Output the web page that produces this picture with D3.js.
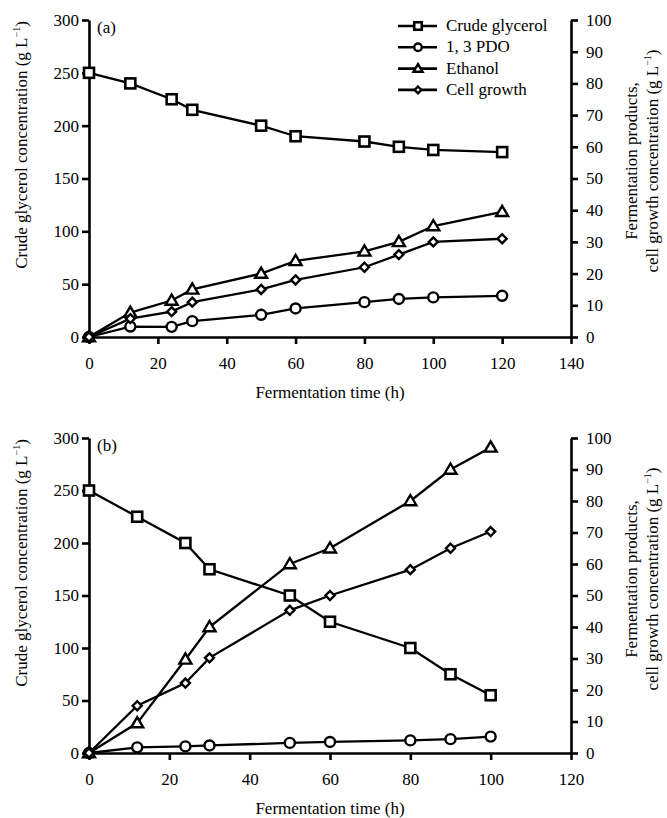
<!DOCTYPE html>
<html>
<head>
<meta charset="utf-8">
<script src="https://cdn.jsdelivr.net/npm/d3@7"></script>
<style>
  body { margin: 0; background: #fff; }
  .axis path, .axis line { stroke: #000; stroke-width: 2.6px; }
</style>
</head>
<body>
<div id="chart"></div>
<script>
// panel (a) data
var time_a = [0, 12, 24, 30, 50, 60, 80, 90, 100, 120];
var glycerol_a = [250, 240, 225, 215, 200, 190, 185, 180, 177, 175];
var pdo_a = [0, 3.3, 3.2, 5, 7, 9, 11, 12, 12.5, 13];
var ethanol_a = [0, 7.7, 11.5, 15, 20, 24, 27, 30, 35, 39.5];
var cell_a = [0, 5.8, 8, 11, 15, 18, 22, 26, 30, 31];

// panel (b) data
var time_b = [0, 12, 24, 30, 50, 60, 80, 90, 100];
var glycerol_b = [250, 225, 200, 175, 150, 125, 100, 75, 55];
var pdo_b = [0, 1.8, 2.1, 2.4, 3.2, 3.5, 4, 4.4, 5.2];
var ethanol_b = [0, 9.5, 29.7, 40, 60, 65, 80, 90, 97];
var cell_b = [0, 15, 22.2, 30.2, 45.3, 50, 58.2, 65, 70.3];

var left_ticks = [0, 50, 100, 150, 200, 250, 300];
var right_ticks = [0, 10, 20, 30, 40, 50, 60, 70, 80, 90, 100];
var legend_names = ["Crude glycerol", "1, 3 PDO", "Ethanol", "Cell growth"];

var FONT = '"Liberation Serif", "Times New Roman", "DejaVu Serif", serif';
var width = 667;
var height = 818;

var svg = d3.select('#chart')
  .append('svg')
  .attr('width', width)
  .attr('height', height);

// marker drawing, kind: 0 square, 1 circle, 2 triangle, 3 diamond
function drawMarker(g, kind, x, y, s) {
  if (kind == 0) {
    g.append('rect').attr('x', x - 5 * s).attr('y', y - 5 * s)
      .attr('width', 10 * s).attr('height', 10 * s)
      .attr('fill', '#fff').attr('stroke', '#000').attr('stroke-width', 2.6);
  } else if (kind == 1) {
    g.append('circle').attr('cx', x).attr('cy', y).attr('r', 5 * s)
      .attr('fill', '#fff').attr('stroke', '#000').attr('stroke-width', 2.4);
  } else if (kind == 2) {
    var h = 6 * s;
    g.append('path')
      .attr('d', 'M' + x + ',' + (y - h) + 'L' + (x + h) + ',' + (y + h * 0.7) + 'L' + (x - h) + ',' + (y + h * 0.7) + 'Z')
      .attr('fill', '#fff').attr('stroke', '#000').attr('stroke-width', 2.4);
  } else {
    var d = 4.5 * s;
    g.append('path')
      .attr('d', 'M' + x + ',' + (y - d) + 'L' + (x + d) + ',' + y + 'L' + x + ',' + (y + d) + 'L' + (x - d) + ',' + y + 'Z')
      .attr('fill', '#fff').attr('stroke', '#000').attr('stroke-width', 2.4);
  }
}

function unitLabel(t, pre) {
  t.append('tspan').text(pre + '(g L');
  t.append('tspan').attr('font-size', '10px').attr('dy', -7).text('\u22121');
  t.append('tspan').attr('dy', 7).text(')');
}

function drawPanel(p) {
  var x = d3.scaleLinear().domain([0, p.xmax]).range([89, 571]);
  var yl = d3.scaleLinear().domain([0, 300]).range([p.bottom, p.top]);
  var yr = d3.scaleLinear().domain([0, 100]).range([p.bottom, p.top]);

  var g = svg.append('g');

  g.append('g').attr('class', 'axis')
    .attr('transform', 'translate(0,' + p.bottom + ')')
    .call(d3.axisBottom(x).ticks(p.xmax / 20).tickSize(7).tickSizeOuter(0).tickPadding(13));

  g.append('g').attr('class', 'axis')
    .attr('transform', 'translate(89,0)')
    .call(d3.axisLeft(yl).tickValues(left_ticks).tickSize(7).tickSizeOuter(0).tickPadding(3));

  g.append('g').attr('class', 'axis')
    .attr('transform', 'translate(571,0)')
    .call(d3.axisRight(yr).tickValues(right_ticks).tickSize(7).tickSizeOuter(0).tickPadding(8));

  g.selectAll('.axis .domain').attr('stroke-width', 2.8);
  g.selectAll('.axis text').attr('font-size', 17);

  var series = [
    {vals: p.glycerol, scale: yl, kind: 0},
    {vals: p.pdo, scale: yr, kind: 1},
    {vals: p.ethanol, scale: yr, kind: 2},
    {vals: p.cell, scale: yr, kind: 3}
  ];

  series.forEach(function(s) {
    var line = d3.line()
      .x(function(d, i) { return x(p.time[i]); })
      .y(function(d) { return s.scale(d); });
    g.append('path')
      .attr('d', line(s.vals))
      .attr('fill', 'none').attr('stroke', '#000').attr('stroke-width', 2.3);
  });
  series.forEach(function(s) {
    s.vals.forEach(function(v, i) {
      drawMarker(g, s.kind, x(p.time[i]), s.scale(v), 1);
    });
  });

  g.append('text').attr('x', 97).attr('y', p.top + 13)
    .attr('font-size', '17px').text(p.tag);

  g.append('text').attr('x', 330).attr('y', p.bottom + 61)
    .attr('text-anchor', 'middle').attr('font-size', '17px')
    .text('Fermentation time (h)');

  var lc = p.top + 125;
  var lt = g.append('text')
    .attr('transform', 'translate(27,' + lc + ') rotate(-90)')
    .attr('text-anchor', 'middle').attr('font-size', '17px');
  unitLabel(lt, 'Crude glycerol concentration ');

  var rc = p.top + 141;
  g.append('text')
    .attr('transform', 'translate(637,' + rc + ') rotate(-90)')
    .attr('text-anchor', 'middle').attr('font-size', '17px')
    .text('Fermentation products,');
  var rt = g.append('text')
    .attr('transform', 'translate(658,' + rc + ') rotate(-90)')
    .attr('text-anchor', 'middle').attr('font-size', '17px');
  unitLabel(rt, 'cell growth concentration ');

  if (p.legend) {
    legend_names.forEach(function(name, i) {
      var ly = 26 + i * 21.3;
      g.append('line').attr('x1', 398).attr('x2', 437).attr('y1', ly).attr('y2', ly)
        .attr('stroke', '#000').attr('stroke-width', 2.6);
      drawMarker(g, i, 418, ly, 0.75);
      g.append('text').attr('x', 446).attr('y', ly + 5)
        .attr('font-size', '17px').text(name);
    });
  }
}

drawPanel({tag: '(a)', top: 20, bottom: 337, xmax: 140, time: time_a,
  glycerol: glycerol_a, pdo: pdo_a, ethanol: ethanol_a, cell: cell_a, legend: true});
drawPanel({tag: '(b)', top: 438, bottom: 753, xmax: 120, time: time_b,
  glycerol: glycerol_b, pdo: pdo_b, ethanol: ethanol_b, cell: cell_b, legend: false});

// serif everywhere, set inline so it wins over d3's axis font attribute
svg.selectAll('text').style('font-family', FONT).attr('fill', '#000');
</script>
</body>
</html>
